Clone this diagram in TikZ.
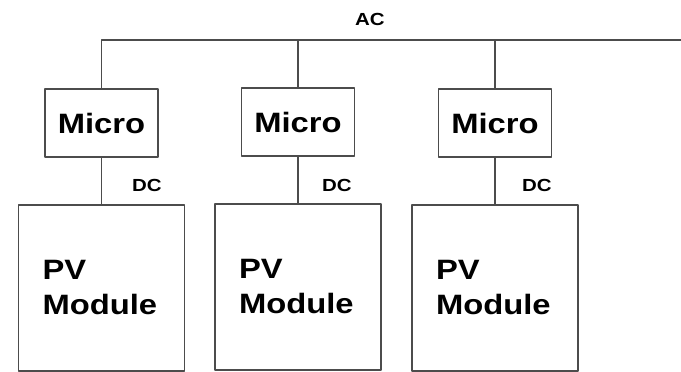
\documentclass[tikz,border=0pt]{standalone}
\usepackage{fontspec}
\newfontfamily\diagfont[FakeStretch=1.17]{Liberation Sans}
\usetikzlibrary{positioning}

\begin{document}
\begin{tikzpicture}[x=1pt,y=-1pt,line join=round]
% -------------------------------------------------
% Styles
% -------------------------------------------------
\tikzset{
  wire/.style={draw=black!70, line width=1.9pt},
  microbox/.style={wire, minimum width=113pt, minimum height=68pt, inner sep=0pt,
    font=\diagfont\bfseries\fontsize{28}{28}\selectfont},
  pvbox/.style={wire, minimum height=166pt, text width=118pt, inner xsep=24pt,
    align=left, font=\diagfont\bfseries\fontsize{28}{35}\selectfont},
  lbl/.style={inner sep=0pt, font=\diagfont\bfseries\fontsize{17.5}{17.5}\selectfont},
}
\useasboundingbox (0,0) rectangle (681,372);
% -------------------------------------------------
% AC bus
% -------------------------------------------------
\coordinate (busend) at (681,40);
\node[lbl] (ac) at (370,19) {AC};
% -------------------------------------------------
% Micro inverters and PV modules
% -------------------------------------------------
\foreach \i/\x/\ym/\yp/\xd in {1/101.5/123/288/147, 2/298/122/287/337, 3/495/123/288/537}{
  \node[microbox] (micro\i) at (\x,\ym) {Micro};
  \node[pvbox] (pv\i) at (\x,\yp) {PV\\Module};
  \node[lbl] (dc\i) at (\xd,185) {DC};
  \draw[wire] (micro\i.south) -- (pv\i.north);
}
\draw[wire] (micro1.north) |- (busend);
\draw[wire] (micro2.north) -- (micro2.north |- busend);
\draw[wire] (micro3.north) -- (micro3.north |- busend);

\end{tikzpicture}
\end{document}
